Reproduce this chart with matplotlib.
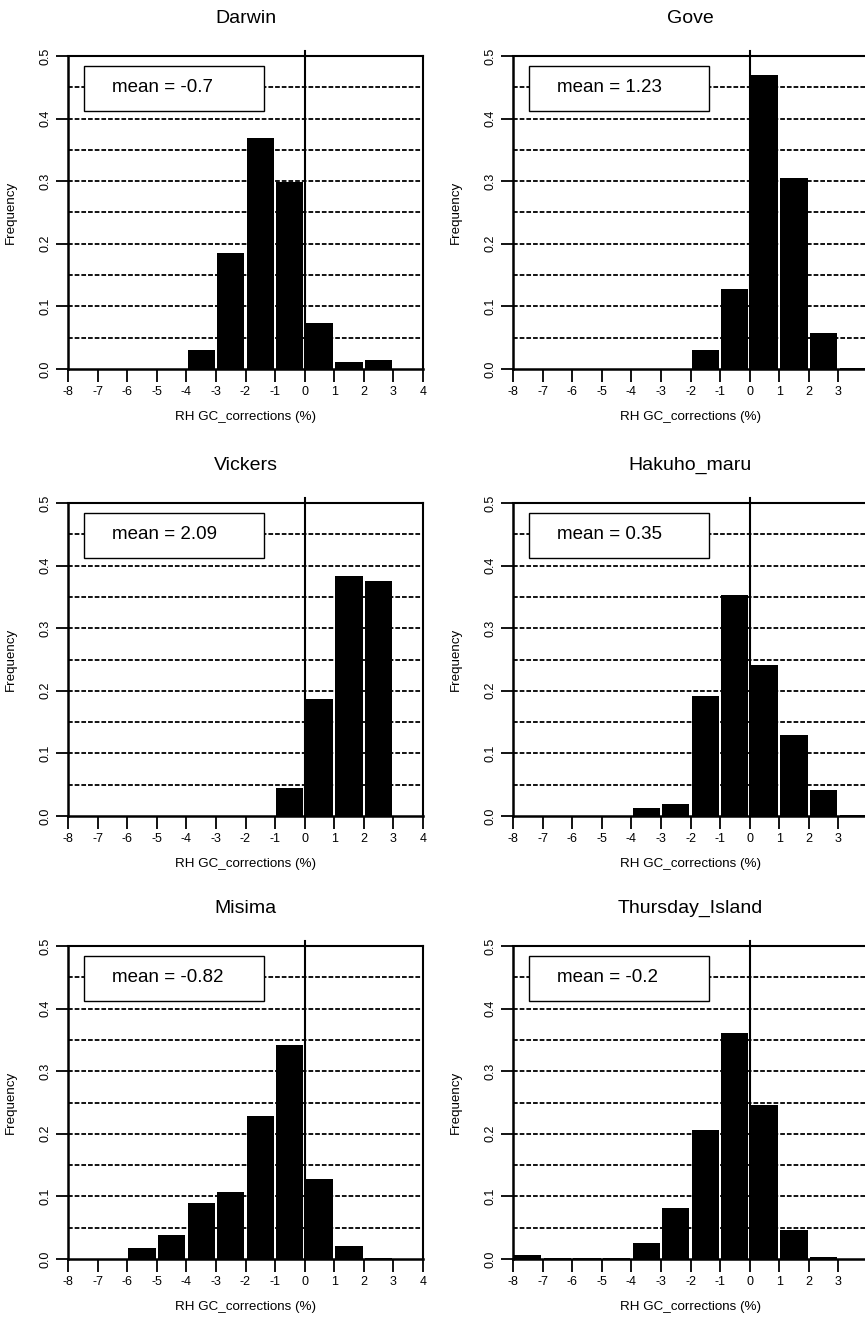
import numpy as np
import matplotlib
matplotlib.use("Agg")
import matplotlib.pyplot as plt
from matplotlib.patches import Rectangle

plt.rcParams['font.family'] = ['Liberation Sans', 'DejaVu Sans']

# histogram bins (RH GC corrections, %)
bin_edges = np.arange(-8, 5, 1)
bin_centres = bin_edges[:-1] + 0.5

stations = ["Darwin", "Gove", "Vickers", "Hakuho_maru", "Misima", "Thursday_Island"]
means = ["-0.7", "1.23", "2.09", "0.35", "-0.82", "-0.2"]

darwin = [0, 0, 0, 0, 0.031, 0.186, 0.369, 0.299, 0.073, 0.011, 0.014, 0]
gove = [0, 0, 0, 0, 0, 0, 0.030, 0.128, 0.470, 0.305, 0.057, 0.002]
vickers = [0, 0, 0, 0, 0, 0, 0, 0.045, 0.187, 0.384, 0.376, 0]
hakuho_maru = [0, 0, 0, 0, 0.012, 0.019, 0.192, 0.353, 0.242, 0.130, 0.041, 0.002]
misima = [0, 0, 0.017, 0.038, 0.090, 0.107, 0.229, 0.342, 0.128, 0.021, 0.002, 0]
thursday_island = [0.007, 0.001, 0.001, 0.001, 0.025, 0.082, 0.206, 0.361, 0.246, 0.047, 0.003, 0]

freqs = [darwin, gove, vickers, hakuho_maru, misima, thursday_island]

xticks = list(range(-8, 5))
yticks = [0.0, 0.1, 0.2, 0.3, 0.4, 0.5]
grid_levels = np.arange(0.05, 0.46, 0.05)

W, H = 865, 1319
fig = plt.figure(figsize=(W / 100, H / 100), dpi=100)

col_x = [68, 513]
row_top = [56, 503, 946]
ax_w, ax_h = 355, 313

for i, (name, m, f) in enumerate(zip(stations, means, freqs)):
    r, c = divmod(i, 2)
    ax = fig.add_axes([col_x[c] / W, 1 - (row_top[r] + ax_h) / H, ax_w / W, ax_h / H])

    ax.hlines(grid_levels, -8, 4, colors="black", linewidth=1.3,
              linestyles=(0, (2.6, 1.1)), zorder=0.5)
    ax.bar(bin_centres, f, width=0.92, color="black", zorder=2)
    ax.axvline(0, ymin=0, ymax=1.015, color="black", linewidth=1.5,
               clip_on=False, zorder=3)

    box = Rectangle((0.045, 0.825), 0.507, 0.143, transform=ax.transAxes,
                    facecolor="white", edgecolor="black", linewidth=1.0, zorder=4)
    ax.add_patch(box)
    ax.text(0.125, 0.90, f"mean = {m}", transform=ax.transAxes, ha="left",
            va="center", fontsize=13.5, zorder=5)

    ax.set_xlim(-8, 4)
    ax.set_ylim(0, 0.5)
    ax.set_xticks(xticks)
    ax.set_xticklabels([str(t) for t in xticks])
    ax.set_yticks(yticks)
    ax.set_yticklabels([f"{t:.1f}" for t in yticks])
    ax.tick_params(axis="both", direction="out", length=9, width=1.3,
                   labelsize=9, pad=3)
    ax.tick_params(axis="y", labelrotation=90)
    for lbl in ax.get_yticklabels():
        lbl.set_verticalalignment("center")

    for side in ["left", "bottom"]:
        ax.spines[side].set_linewidth(1.8)
    for side in ["top", "right"]:
        ax.spines[side].set_linewidth(1.5)

    ax.set_title(name, fontsize=14, pad=24)
    ax.set_ylabel("Frequency", fontsize=9.6)
    ax.yaxis.set_label_coords(-0.144, 0.5)
    ax.set_xlabel("RH GC_corrections (%)", fontsize=9.6)
    ax.xaxis.set_label_coords(0.5, -0.135)

fig.savefig("out.png", dpi=100)
